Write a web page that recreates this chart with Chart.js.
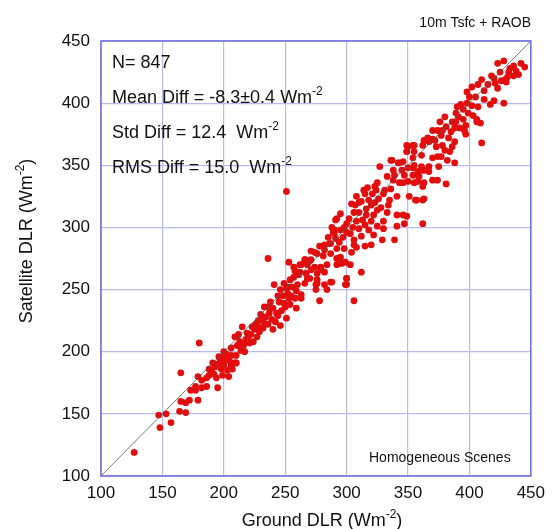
<!DOCTYPE html>
<html>
<head>
<meta charset="utf-8">
<script src="https://cdn.jsdelivr.net/npm/chart.js@4"></script>
<style>
  html, body { margin: 0; padding: 0; background: #fff; }
  #wrap { width: 552px; height: 529px; }
</style>
</head>
<body>
<div id="wrap"><canvas id="c" width="552" height="529"></canvas></div>
<script>
// axis ticks (Wm-2)
const tickValues = [100, 150, 200, 250, 300, 350, 400, 450];

// ground DLR (x) and satellite DLR (y)
const groundDLR = [
  127,148,157,147,153,164,169,165,169,172,179,165,173,177,179,177,182,186,195,182,
  186,180,204,206,210,210,206,211,217,217,190,193,195,197,198,200,201,196,192,199,
  203,188,194,202,204,207,200,198,191,188,
  236,241,215,253,257,262,266,270,274,282,286,290,295,292,287,292,296,299,306,300,
  299,306,288,282,284,278,275,276,270,266,263,260,259,263,259,253,249,251,246,240,
  236,243,239,233,228,225,220,221,216,211,209,206,202,200,208,210,206,251,253,257,
  262,267,271,276,279,282,
  218,222,224,226,229,231,232,234,236,237,238,240,242,244,245,247,248,250,252,254,
  255,256,258,230,227,223,219,213,214,212,244,246,249,254,233,228,
  362,363,357,351,349,347,341,339,330,329,320,315,312,300,300,303,296,292,295,308,
  306,303,300,295,292,290,291,287,282,276,271,266,263,274,279,284,268,276,287,275,
  307,304,312,315,314,325,327,333,338,337,342,346,349,355,354,361,363,355,346,341,
  335,330,325,322,316,320,334,325,315,310,312,322,
  298,302,305,308,310,313,316,318,320,323,326,328,331,333,310,306,300,297,318,321,
  324,317,330,336,304,298,294,285,288,281,278,271,268,261,258,
  428,445,436,433,432,440,425,418,421,429,430,410,402,412,420,417,428,407,402,398,
  393,390,389,391,395,406,406,409,410,397,396,397,388,385,389,380,376,381,370,374,
  377,370,366,363,367,362,355,350,349,373,378,380,386,388,384,377,370,374,382,388,
  375,367,361,354,355,361,367,363,358,350,343,336,345,339,347,354,359,370,374,381,
  362,358,350,343,338,
  251,341,346,362,356,349,354,308,323,291,289,
  415,420,423,426,431,438,442,436,412,405,400,395,399,403,386,392,383,378,372,398,
  407,423
];
const satelliteDLR = [
  119,139,143,149,150,152,151,160,159,161,161,183,169,169,180,172,171,172,171,177,
  179,207,180,191,191,197,203,212,207,200,185,188,190,192,186,189,194,196,182,181,
  185,181,179,198,193,186,200,195,191,186,
  275,254,220,272,268,270,274,273,280,286,287,295,298,283,279,275,271,272,286,259,
  254,241,256,254,250,241,250,255,259,255,246,254,249,243,235,243,239,227,221,218,
  236,231,226,223,220,218,212,207,205,205,212,197,196,193,191,191,188,251,252,260,
  264,263,266,263,268,264,
  210,214,208,222,216,226,219,228,222,231,240,235,224,229,240,233,245,236,247,238,
  245,252,243,230,212,220,215,208,201,214,245,250,255,258,236,225,
  303,323,322,325,309,303,301,290,299,290,286,285,264,259,254,270,272,270,276,284,
  290,295,303,311,307,298,291,287,282,279,274,274,270,268,266,270,259,258,256,254,
  318,319,321,327,330,336,349,341,346,354,352,353,361,361,348,346,336,336,336,325,
  322,327,314,310,310,318,318,301,302,299,293,294,
  300,307,300,305,312,306,315,322,305,320,323,316,330,312,320,312,296,292,298,327,
  330,332,305,331,280,283,288,292,300,277,285,281,270,262,265,
  434,429,430,428,425,423,425,422,416,419,417,419,413,403,402,399,400,397,398,400,
  399,397,392,389,387,387,385,384,368,382,378,375,380,377,385,389,385,381,378,378,
  374,371,372,370,369,366,366,365,361,365,366,362,365,369,361,357,356,357,354,352,
  349,349,358,356,350,349,345,346,345,348,352,354,346,342,342,342,341,338,338,335,
  333,337,337,336,338,
  329,310,310,322,322,366,366,325,333,306,296,
  415,420,412,418,421,426,432,422,410,405,405,395,392,390,385,380,372,378,370,409,
  415,432
];

// 1:1 reference line
const oneToOne = [100, 450];

const points = groundDLR.map((x, i) => ({ x: x, y: satelliteDLR[i] }));

const FONT = "'Liberation Sans', Arial, Helvetica, sans-serif";

// text with a superscript tail, e.g. Wm^-2
function supText(ctx, x, y, parts, size) {
  let cx = x;
  parts.forEach(p => {
    if (p.sup) {
      ctx.font = Math.round(size * 0.65) + "px " + FONT;
      ctx.fillText(p.t, cx, y - size * 0.45);
    } else {
      ctx.font = size + "px " + FONT;
      ctx.fillText(p.t, cx, y);
    }
    cx += ctx.measureText(p.t).width;
  });
  return cx - x;
}

function measureParts(ctx, parts, size) {
  let w = 0;
  parts.forEach(p => {
    ctx.font = (p.sup ? Math.round(size * 0.65) : size) + "px " + FONT;
    w += ctx.measureText(p.t).width;
  });
  return w;
}

const annotations = {
  id: "annotations",
  afterDraw(chart) {
    const ctx = chart.ctx;
    const a = chart.chartArea;
    ctx.save();

    // frame
    ctx.strokeStyle = "rgb(110,110,222)";
    ctx.lineWidth = 1.5;
    ctx.strokeRect(a.left, a.top, a.right - a.left, a.bottom - a.top);

    ctx.fillStyle = "#111";
    ctx.textBaseline = "alphabetic";
    ctx.textAlign = "left";

    supText(ctx, 112, 68, [{ t: "N= 847" }], 18);
    supText(ctx, 112, 103, [{ t: "Mean Diff = -8.3\u00b10.4 Wm" }, { t: "-2", sup: true }], 18);
    supText(ctx, 112, 138, [{ t: "Std Diff = 12.4  Wm" }, { t: "-2", sup: true }], 18);
    supText(ctx, 112, 173, [{ t: "RMS Diff = 15.0  Wm" }, { t: "-2", sup: true }], 18);

    // corner labels
    ctx.font = "14px " + FONT;
    ctx.textAlign = "right";
    ctx.fillText("10m Tsfc + RAOB", 531, 27);
    ctx.textAlign = "left";
    ctx.fillText("Homogeneous Scenes", 369, 462);

    // axis titles
    const xt = [{ t: "Ground DLR (Wm" }, { t: "-2", sup: true }, { t: ")" }];
    const xw = measureParts(ctx, xt, 18);
    supText(ctx, 322 - xw / 2, 526, xt, 18);

    const yt = [{ t: "Satellite DLR (Wm" }, { t: "-2", sup: true }, { t: ")" }];
    const yw = measureParts(ctx, yt, 18);
    ctx.translate(32, 241);
    ctx.rotate(-Math.PI / 2);
    supText(ctx, -yw / 2, 0, yt, 18);

    ctx.restore();
  }
};

new Chart(document.getElementById("c"), {
  type: "scatter",
  data: {
    datasets: [
      {
        type: "line",
        data: oneToOne.map(v => ({ x: v, y: v })),
        borderColor: "#555",
        borderWidth: 0.8,
        pointRadius: 0,
        order: 0
      },
      {
        data: points,
        backgroundColor: "rgb(226,14,14)",
        borderWidth: 0,
        pointRadius: 3.4,
        order: 1
      }
    ]
  },
  options: {
    responsive: false,
    animation: false,
    layout: { padding: { top: 41, right: 16, left: 0, bottom: 0 } },
    plugins: { legend: { display: false }, tooltip: { enabled: false } },
    scales: {
      x: {
        type: "linear",
        min: 100,
        max: 450,
        afterBuildTicks: s => { s.ticks = tickValues.map(v => ({ value: v })); },
        afterFit: s => { s.height = 53; },
        ticks: { color: "#111", font: { size: 17, family: FONT }, padding: 7, maxRotation: 0 },
        grid: { color: "rgb(184,184,242)", lineWidth: 1.2, drawTicks: false },
        border: { display: false }
      },
      y: {
        type: "linear",
        min: 100,
        max: 450,
        afterBuildTicks: s => { s.ticks = tickValues.map(v => ({ value: v })); },
        afterFit: s => { s.width = 101; },
        ticks: { color: "#111", font: { size: 17, family: FONT }, padding: 11 },
        grid: { color: "rgb(184,184,242)", lineWidth: 1.2, drawTicks: false },
        border: { display: false }
      }
    }
  },
  plugins: [annotations]
});
</script>
</body>
</html>
